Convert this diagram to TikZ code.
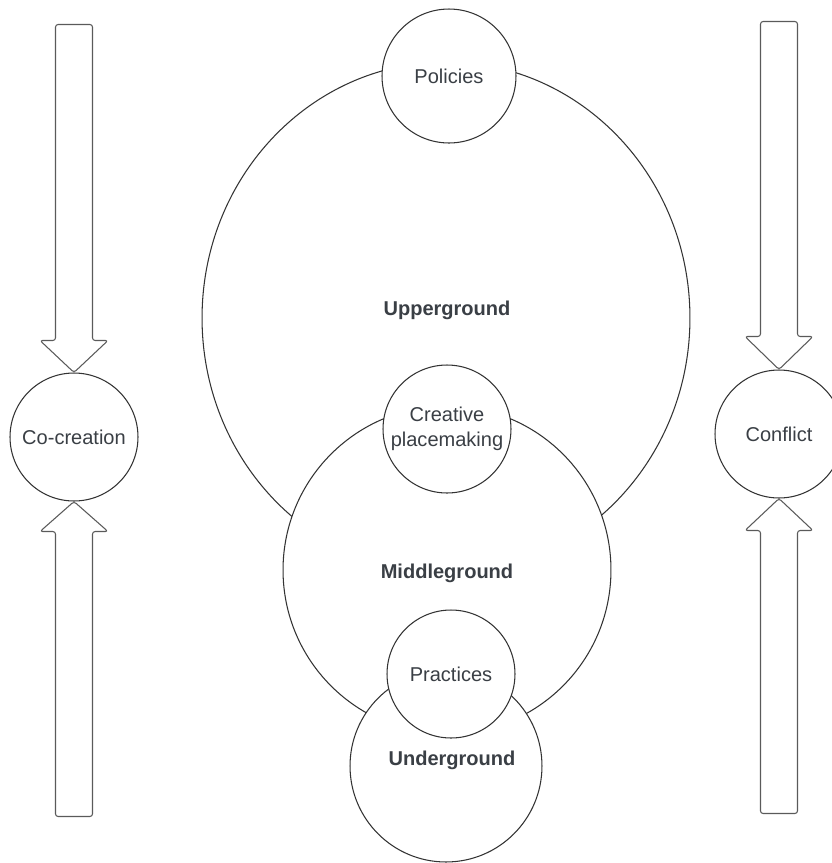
\documentclass[tikz,border=0pt]{standalone}
\usepackage{fontspec}
\setmainfont{Liberation Sans}
\usepackage{tikz}
\usetikzlibrary{shapes.geometric}
\definecolor{ink}{HTML}{3A3F45}
\definecolor{rim}{HTML}{333333}
\definecolor{arrowrim}{HTML}{5A5A5A}
\tikzset{ring/.style={circle,draw=rim,fill=white,line width=0.6pt,inner sep=0pt,align=center,text=ink,font=\fontsize{11.4}{14.2}\selectfont,minimum size=2.56cm},layer/.style={draw=rim,fill=white,line width=0.6pt,inner sep=0pt},tag/.style={text=ink,font=\fontsize{11.4}{14.2}\selectfont\bfseries},blockarrow/.style={draw=arrowrim,fill=white,line width=0.6pt,rounded corners=1.5pt,line join=round}}

\begin{document}
\begin{tikzpicture}[x=0.02cm,y=-0.02cm]
\clip (0,0) rectangle (832,863);
\fill[white] (0,0) rectangle (832,863);
% nested grounds
\node[layer,ellipse,minimum width=9.76cm,minimum height=10.24cm] (upper) at (446,318) {};
\node[tag] (uppertext) at (447,310) {Upperground};
\node[ring,minimum size=2.68cm] (policies) at (449,76) {Policies};
\node[layer,circle,minimum size=6.56cm] (middle) at (447,570) {};
\node[tag] (middletext) at (447,573) {Middleground};
\node[ring] (creative) at (447,429) {Creative\\placemaking};
\node[layer,circle,minimum size=3.84cm] (under) at (446,766) {};
\node[tag] (undertext) at (452,760) {Underground};
\node[ring] (practices) at (451,674) {Practices};
% side circles
\node[ring] (cocreation) at (74,437) {Co-creation};
\node[ring] (conflict) at (779,434) {Conflict};
% block arrows
\draw[blockarrow] (cocreation.north)--++(-34,-32)--++(15.5,0)--++(0,-316)--++(37,0)--++(0,316)--++(15.5,0)--cycle;
\draw[blockarrow] (cocreation.south)--++(-34,30)--++(15.5,0)--++(0,285)--++(37,0)--++(0,-285)--++(15.5,0)--cycle;
\draw[blockarrow] (conflict.north)--++(-34,-33)--++(15.5,0)--++(0,-315)--++(37,0)--++(0,315)--++(15.5,0)--cycle;
\draw[blockarrow] (conflict.south)--++(-34,32)--++(15.5,0)--++(0,283)--++(37,0)--++(0,-283)--++(15.5,0)--cycle;
\end{tikzpicture}
\end{document}
